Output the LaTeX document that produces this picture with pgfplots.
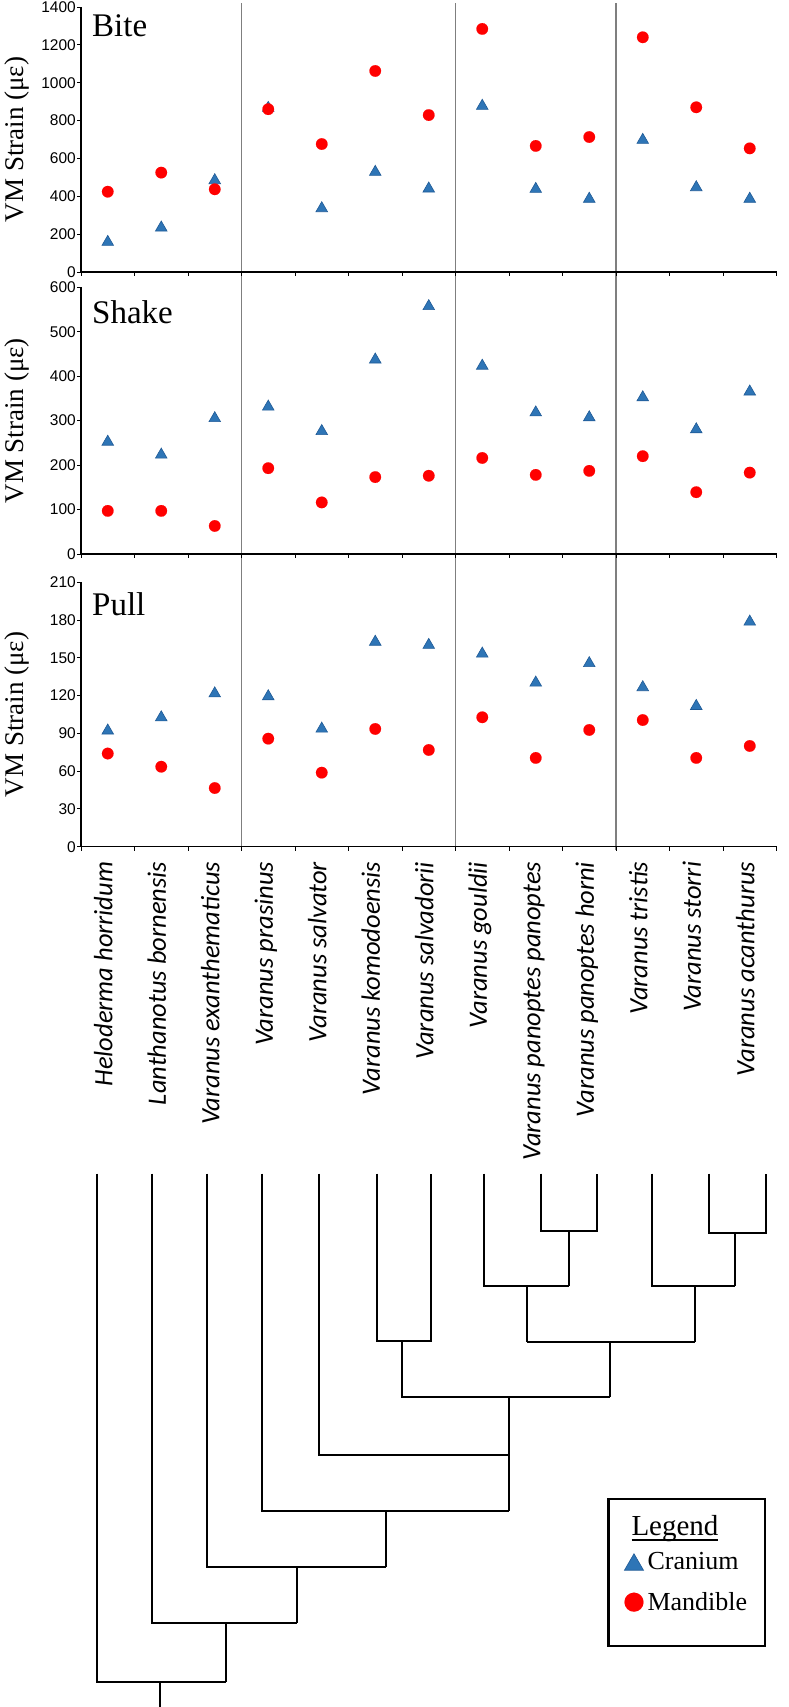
\documentclass[border=0pt]{standalone}
\usepackage{fontspec}
\setmainfont{Liberation Serif}
\newfontfamily\arialf{Liberation Sans}
\newfontfamily\carlito{Carlito}
\usepackage{pgfplots}
\pgfplotsset{compat=1.18}
\definecolor{tri}{HTML}{2E75B6}
\definecolor{triedge}{HTML}{1F5A96}
\definecolor{sepgray}{HTML}{7F7F7F}
\newcommand\legendhead{\setbox0\hbox{Legend}\rlap{\rule[-5.5pt]{\wd0}{1.4pt}}\box0}
\tikzset{ptitle/.style={anchor=base west, inner sep=0pt, font=\fontsize{33}{36}\selectfont}}
\pgfplotsset{
  panel/.style={
    scale only axis, width=695.5pt,
    xmin=-0.5, xmax=12.5,
    axis lines*=left,
    axis line style={black, line width=1.1pt},
    tick align=outside,
    xtick={0,...,12}, minor xtick={-0.5,0.5,...,12.5},
    major x tick style={draw=none},
    minor x tick style={black, line width=0.9pt},
    major y tick style={black, line width=0.9pt},
    major tick length=4pt, minor tick length=4pt,
    yticklabel style={font=\arialf\fontsize{15.5}{18}\selectfont, inner xsep=1pt},
    /pgf/number format/assume math mode=true,
    /pgf/number format/1000 sep={},
    ylabel={VM Strain (με)},
    every axis y label/.style={at={(axis description cs:-0.0922,0.5)}, rotate=90,
      anchor=center, font=\fontsize{27}{30}\selectfont},
    clip=false,
    xticklabels={},
  },
  cran/.style={only marks, mark=triangle*, mark size=6.7pt,
    mark options={fill=tri, draw=triedge, line width=0.6pt, yshift=-1.7pt}},
  mand/.style={only marks, mark=*, mark size=5.8pt,
    mark options={fill=red, draw=red, line width=0.1pt}},
  treeline/.style={forget plot, black, line width=2.2pt, line join=miter},
  mylegimg/.style={legend image code/.code={\draw[##1] plot coordinates {(0pt,0pt)};}},
}
\begin{document}
\begin{tikzpicture}
\useasboundingbox (0pt,0pt) rectangle (788pt,1707pt);

% separator lines spanning the three panels
\begin{axis}[at={(81pt,857pt)}, anchor=south west, scale only axis,
  width=695.5pt, height=847pt, xmin=-0.5, xmax=12.5, ymin=0, ymax=1, hide axis]
\addplot[sepgray, line width=1.1pt] coordinates {(2.5,0) (2.5,1)};
\addplot[sepgray, line width=1.1pt] coordinates {(6.5,0) (6.5,1)};
\addplot[sepgray, line width=1.1pt] coordinates {(9.5,0) (9.5,1)};
\end{axis}

% Bite
\begin{axis}[panel, at={(81pt,1435pt)}, anchor=south west, height=265pt,
  ymin=0, ymax=1400, ytick={0,200,...,1400}]
\addplot[cran] coordinates {(0,167) (1,243) (2,493) (3,875) (4,345) (5,537) (6,449)
  (7,886) (8,447) (9,395) (10,706) (11,456) (12,395)};
\addplot[mand] coordinates {(0,424) (1,525) (2,437) (3,860) (4,676) (5,1062) (6,829)
  (7,1284) (8,666) (9,713) (10,1240) (11,870) (12,653)};
\node[ptitle] at (rel axis cs:0.0158,0.887) {Bite};
\end{axis}

% Shake
\begin{axis}[panel, at={(81pt,1153pt)}, anchor=south west, height=266.7pt,
  ymin=0, ymax=600, ytick={0,100,...,600}]
\addplot[cran] coordinates {(0,256) (1,227) (2,309) (3,335) (4,280) (5,441) (6,561)
  (7,427) (8,322) (9,311) (10,356) (11,284) (12,369)};
\addplot[mand] coordinates {(0,97) (1,97) (2,63) (3,193) (4,116) (5,173) (6,176)
  (7,216) (8,178) (9,187) (10,220) (11,139) (12,183)};
\node[ptitle] at (rel axis cs:0.0158,0.866) {Shake};
\end{axis}

% Pull
\begin{axis}[panel, at={(81pt,860.3pt)}, anchor=south west, height=264.4pt,
  ymin=0, ymax=210, ytick={0,30,...,210},
  xticklabels={Heloderma horridum, Lanthanotus bornensis, Varanus exanthematicus,
    Varanus prasinus, Varanus salvator, Varanus komodoensis, Varanus salvadorii,
    Varanus gouldii, Varanus panoptes panoptes, Varanus panoptes horni,
    Varanus tristis, Varanus storri, Varanus acanthurus},
  xticklabel style={rotate=90, anchor=base east, inner xsep=0pt,
    xshift=-11pt, yshift=-4.5pt,
    font=\carlito\itshape\fontsize{26.5}{28}\selectfont}]
\addplot[cran] coordinates {(0,93.5) (1,104) (2,123) (3,120.7) (4,95) (5,164) (6,161.5)
  (7,154.6) (8,131.6) (9,147) (10,127.9) (11,113) (12,180)};
\addplot[mand] coordinates {(0,74) (1,63.5) (2,46.6) (3,85.8) (4,58.8) (5,93.5) (6,76.8)
  (7,102.8) (8,70.5) (9,92.7) (10,100.6) (11,70.5) (12,80)};
\node[ptitle] at (rel axis cs:0.0158,0.876) {Pull};
\end{axis}

% phylogeny and legend
\begin{axis}[at={(0pt,0pt)}, anchor=south west, scale only axis,
  width=788pt, height=1707pt, xmin=0, xmax=788, ymin=0, ymax=1707,
  y dir=reverse, hide axis, clip=false,
  legend cell align=left,
  legend style={at={(axis cs:607.3,1497.7)}, anchor=north west,
    draw=black, line width=2.3pt, fill=white,
    font=\fontsize{26}{30}\selectfont,
    inner xsep=16pt, inner ysep=9.3pt, row sep=17pt, column sep=2pt,
    nodes={inner sep=2pt}}]
\addplot[treeline] coordinates {(540.7,1173.5) (540.7,1231) (596.7,1231) (596.7,1173.5)};
\addplot[treeline] coordinates {(569,1231) (569,1286)};
\addplot[treeline] coordinates {(484,1173.5) (484,1286) (569,1286)};
\addplot[treeline] coordinates {(526.7,1286) (526.7,1341.7)};
\addplot[treeline] coordinates {(709,1173.5) (709,1232.7) (765.7,1232.7) (765.7,1173.5)};
\addplot[treeline] coordinates {(734.7,1232.7) (734.7,1286)};
\addplot[treeline] coordinates {(652.3,1173.5) (652.3,1286) (734.7,1286)};
\addplot[treeline] coordinates {(694.7,1286) (694.7,1341.7)};
\addplot[treeline] coordinates {(526.7,1341.7) (694.7,1341.7)};
\addplot[treeline] coordinates {(609.7,1341.7) (609.7,1397.3)};
\addplot[treeline] coordinates {(376.7,1173.5) (376.7,1341) (430.7,1341) (430.7,1173.5)};
\addplot[treeline] coordinates {(402.3,1341) (402.3,1397.3) (609.7,1397.3)};
\addplot[treeline] coordinates {(508.7,1397.3) (508.7,1510.7)};
\addplot[treeline] coordinates {(319,1173.5) (319,1455) (508.7,1455)};
\addplot[treeline] coordinates {(262.3,1173.5) (262.3,1510.7) (508.7,1510.7)};
\addplot[treeline] coordinates {(385.7,1510.7) (385.7,1566.7)};
\addplot[treeline] coordinates {(207,1173.5) (207,1566.7) (385.7,1566.7)};
\addplot[treeline] coordinates {(296.7,1566.7) (296.7,1622.7)};
\addplot[treeline] coordinates {(151.7,1173.5) (151.7,1622.7) (296.7,1622.7)};
\addplot[treeline] coordinates {(225.7,1622.7) (225.7,1682.3)};
\addplot[treeline] coordinates {(97.3,1173.5) (97.3,1682.3) (225.7,1682.3)};
\addplot[treeline] coordinates {(160,1682.3) (160,1707)};
\addlegendimage{legend image code/.code={}}
\addlegendentry{\hspace*{-16pt}\fontsize{29}{30}\selectfont\raisebox{-5pt}[20pt][6pt]{\legendhead}}
\addlegendimage{only marks, mark=triangle*, mark size=11pt,
  mark options={fill=tri, draw=triedge, line width=0.6pt, yshift=-2.7pt}, mylegimg}
\addlegendentry{Cranium}
\addlegendimage{only marks, mark=*, mark size=9.5pt,
  mark options={fill=red, draw=red, line width=0.1pt}, mylegimg}
\addlegendentry{Mandible}
\addlegendimage{legend image code/.code={}}
\addlegendentry{}
\end{axis}
\end{tikzpicture}
\end{document}
